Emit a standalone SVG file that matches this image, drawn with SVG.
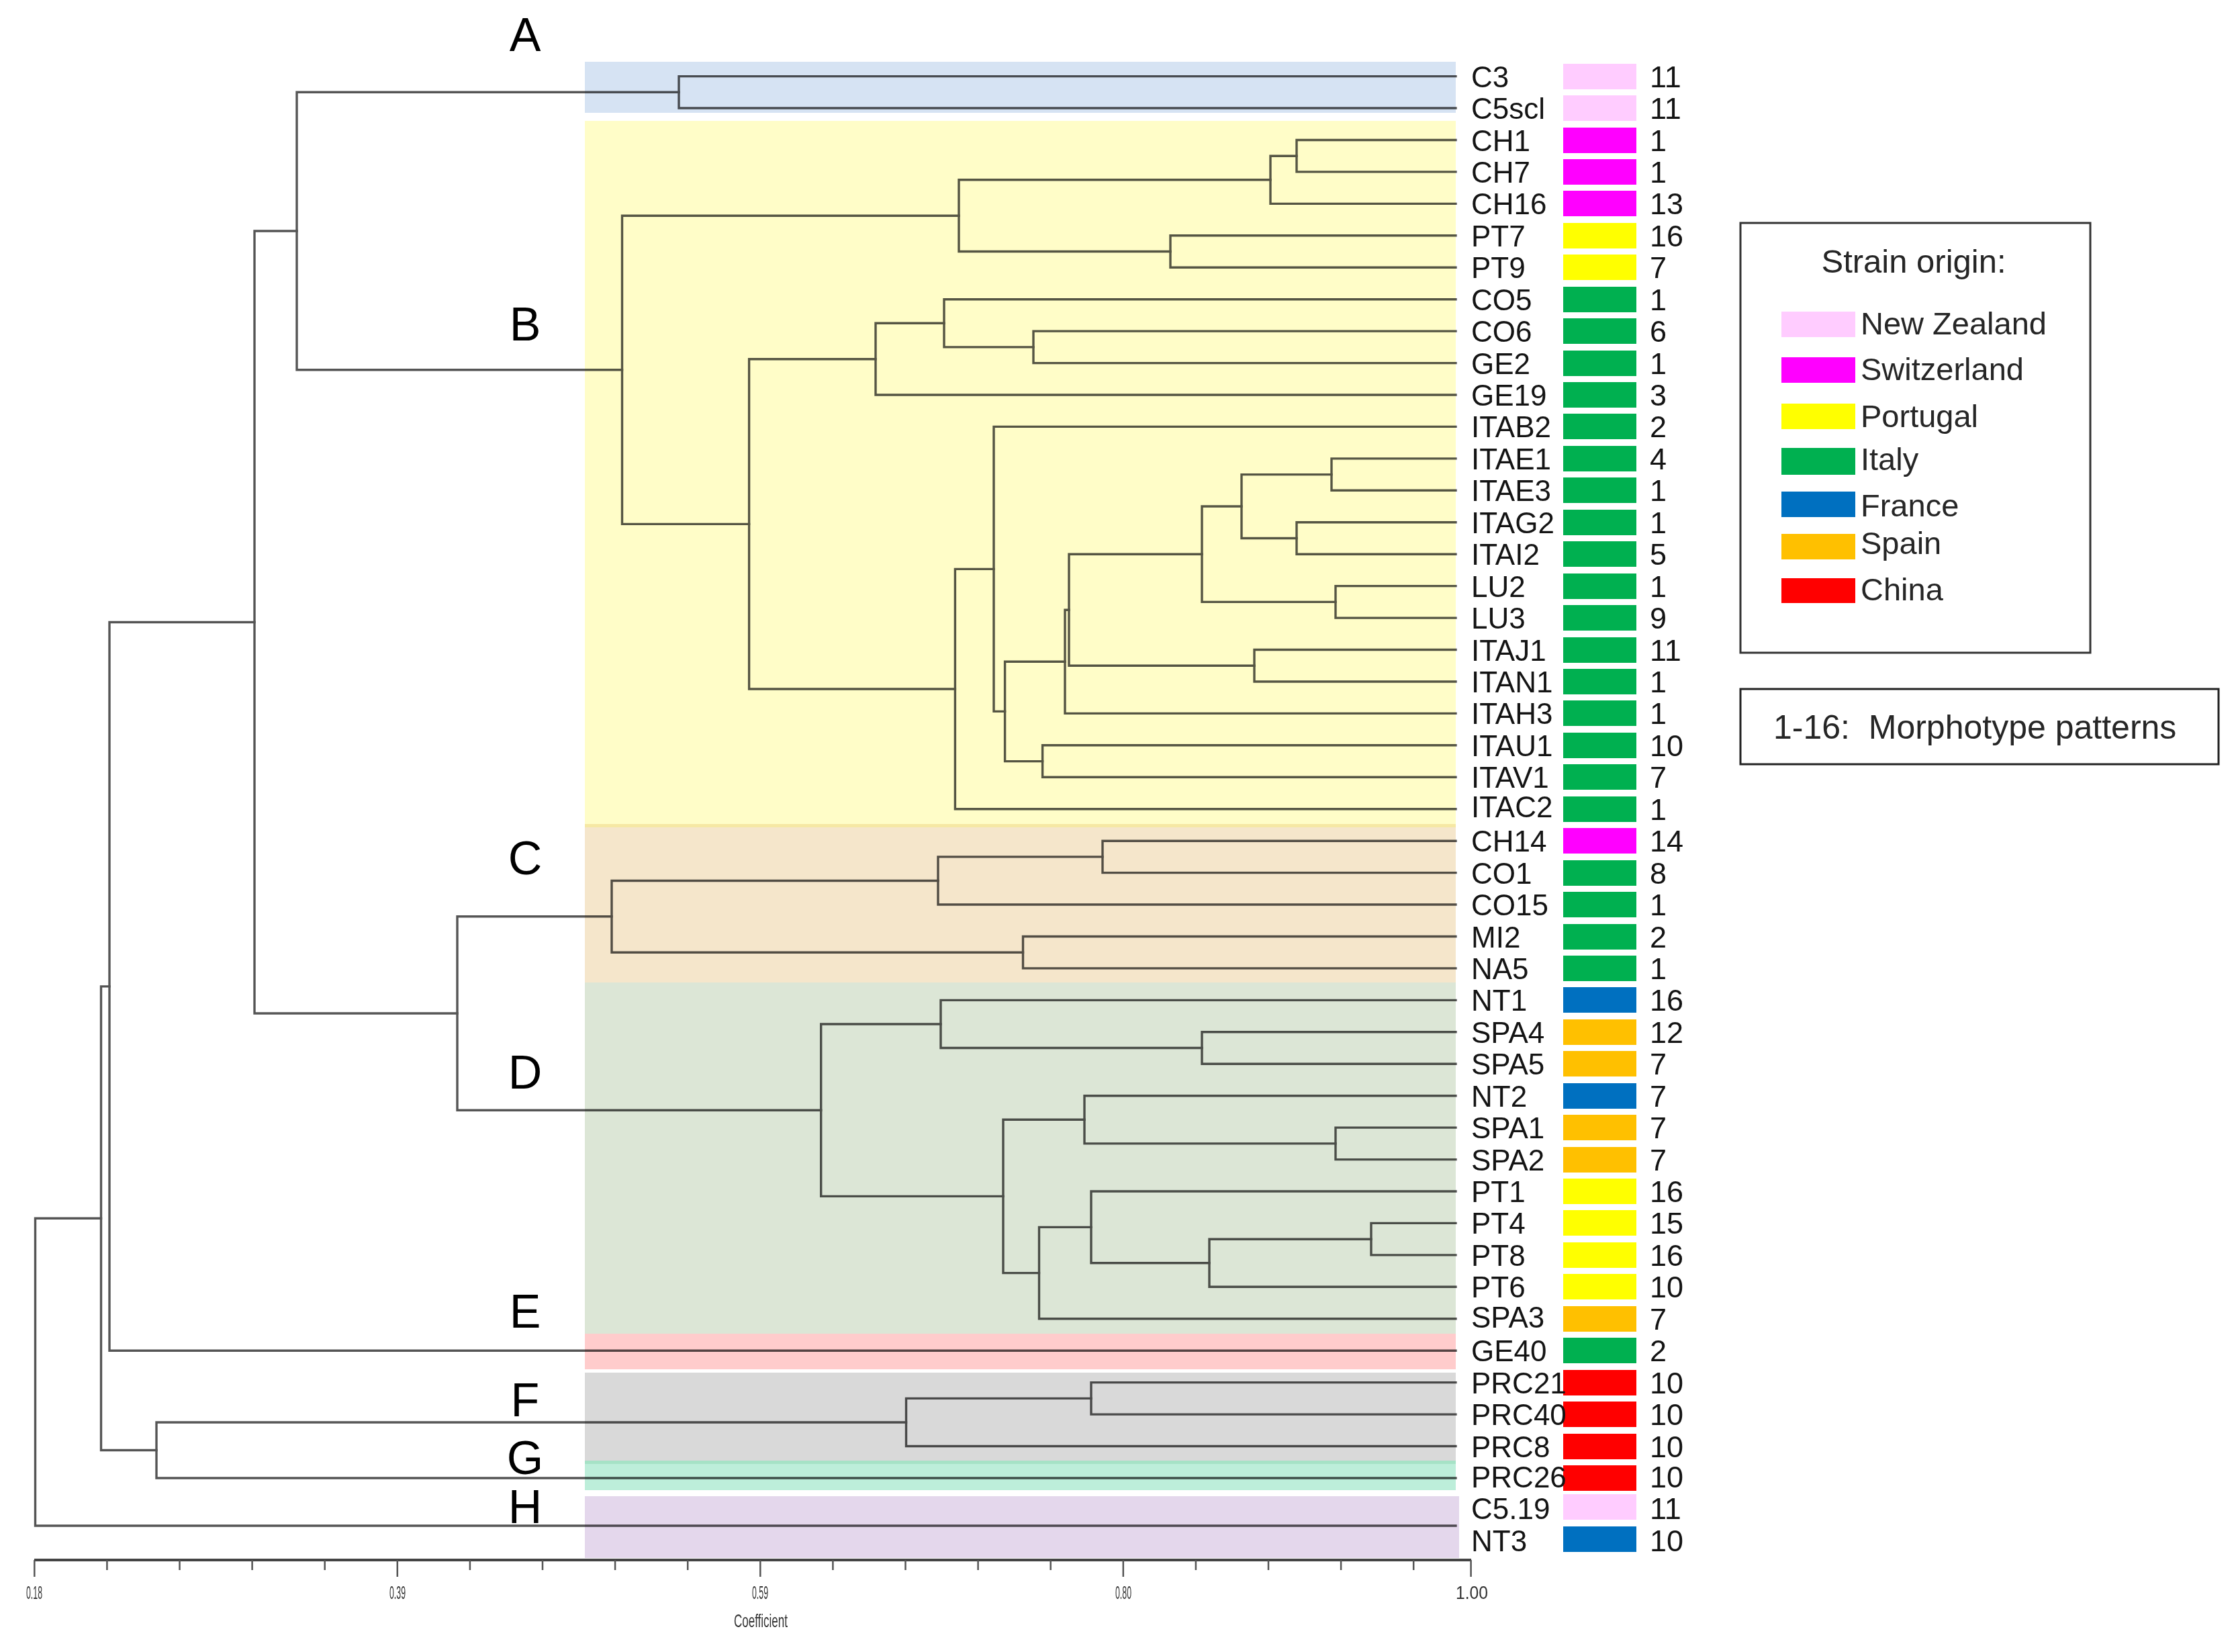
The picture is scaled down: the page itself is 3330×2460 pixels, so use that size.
<svg xmlns="http://www.w3.org/2000/svg" width="3330" height="2460" viewBox="0 0 3330 2460">
<style>
text{font-family:"Liberation Sans",Arial,sans-serif}
.lbl{font-size:44px;fill:#141414}
.num{font-size:45px;fill:#141414}
.cl{font-size:70px;fill:#000;text-anchor:middle}
.lg{font-size:47px;fill:#262626}
.ax{font-size:28px;fill:#333;text-anchor:middle}
.nz{fill:#FFCCFF}.ch{fill:#FF00FF}.pt{fill:#FFFF00}.it{fill:#00B050}.fr{fill:#0070C0}.es{fill:#FFC000}.cn{fill:#FF0000}
.tree path{fill:none;stroke:#555;stroke-width:3.4;stroke-linecap:square}
.tree{mix-blend-mode:multiply}
</style>
<rect width="3330" height="2460" fill="#fff"/>
<g id="bands">
<rect x="871" y="92" width="1297" height="76" fill="#D6E3F3"/>
<rect x="871" y="180" width="1297" height="1050" fill="#FFFDC8"/>
<rect x="871" y="1227" width="1297" height="5" fill="#F6E8A4"/>
<rect x="871" y="1232" width="1297" height="231" fill="#F5E6CB"/>
<rect x="871" y="1463" width="1297" height="523" fill="#DCE6D6"/>
<rect x="871" y="1986" width="1297" height="53" fill="#FFCCCC"/>
<rect x="871" y="2044" width="1297" height="131" fill="#D9D9D9"/>
<rect x="871" y="2175" width="1297" height="44" fill="#BDEEDA"/>
<rect x="871" y="2175" width="1297" height="5" fill="#A6E2C6"/>
<rect x="871" y="2228" width="1302" height="92" fill="#E4D7EC"/>
</g>
<g id="connectors" class="tree">
<path d="M52.5,1814.2V2272M52.5,1814.2H150.5M52.5,2272H2168"/>
<path d="M150.5,1468.9V2159.5M150.5,1468.9H163M150.5,2159.5H233"/>
<path d="M163,926.5V2011.2M163,926.5H379M163,2011.2H2168"/>
<path d="M233,2118V2201M233,2118H1349.5M233,2201H2168"/>
<path d="M1349.5,2082.4V2153.5M1349.5,2082.4H1625M1349.5,2153.5H2168"/>
<path d="M1625,2058.6V2106.1M1625,2058.6H2168M1625,2106.1H2168"/>
<path d="M379,344V1509M379,344H442M379,1509H681"/>
<path d="M442,137.3V550.8M442,137.3H1011M442,550.8H926.5"/>
<path d="M1011,113.6V161M1011,113.6H2168M1011,161H2168"/>
<path d="M926.5,321.2V780.4M926.5,321.2H1428M926.5,780.4H1115.6"/>
<path d="M1428,267.8V374.5M1428,267.8H1892M1428,374.5H1743"/>
<path d="M1892,232.2V303.4M1892,232.2H1931M1892,303.4H2168"/>
<path d="M1931,208.5V255.9M1931,208.5H2168M1931,255.9H2168"/>
<path d="M1743,350.8V398.2M1743,350.8H2168M1743,398.2H2168"/>
<path d="M1115.6,534.7V1026M1115.6,534.7H1304M1115.6,1026H1422.4"/>
<path d="M1304,481.3V588M1304,481.3H1406M1304,588H2168"/>
<path d="M1406,445.7V516.9M1406,445.7H2168M1406,516.9H1539"/>
<path d="M1539,493.1V540.6M1539,493.1H2168M1539,540.6H2168"/>
<path d="M1422.4,847.4V1204.7M1422.4,847.4H1480M1422.4,1204.7H2168"/>
<path d="M1480,635.4V1059.4M1480,635.4H2168M1480,1059.4H1496.6"/>
<path d="M1496.6,985.3V1133.6M1496.6,985.3H1586M1496.6,1133.6H1552.6"/>
<path d="M1586,908.2V1062.4M1586,908.2H1592M1586,1062.4H2168"/>
<path d="M1592,825.2V991.2M1592,825.2H1790M1592,991.2H1868"/>
<path d="M1790,754V896.4M1790,754H1849M1790,896.4H1989"/>
<path d="M1849,706.6V801.5M1849,706.6H1983M1849,801.5H1931"/>
<path d="M1983,682.9V730.3M1983,682.9H2168M1983,730.3H2168"/>
<path d="M1931,777.8V825.2M1931,777.8H2168M1931,825.2H2168"/>
<path d="M1989,872.6V920.1M1989,872.6H2168M1989,920.1H2168"/>
<path d="M1868,967.5V1015M1868,967.5H2168M1868,1015H2168"/>
<path d="M1552.6,1109.8V1157.3M1552.6,1109.8H2168M1552.6,1157.3H2168"/>
<path d="M681,1364.8V1653.2M681,1364.8H911M681,1653.2H1222.7"/>
<path d="M911,1311.5V1418.2M911,1311.5H1397M911,1418.2H1523.5"/>
<path d="M1397,1275.9V1347M1397,1275.9H1642M1397,1347H2168"/>
<path d="M1642,1252.2V1299.6M1642,1252.2H2168M1642,1299.6H2168"/>
<path d="M1523.5,1394.5V1441.9M1523.5,1394.5H2168M1523.5,1441.9H2168"/>
<path d="M1222.7,1525V1781.4M1222.7,1525H1401M1222.7,1781.4H1494"/>
<path d="M1401,1489.4V1560.5M1401,1489.4H2168M1401,1560.5H1790"/>
<path d="M1790,1536.8V1584.2M1790,1536.8H2168M1790,1584.2H2168"/>
<path d="M1494,1667.3V1895.6M1494,1667.3H1615M1494,1895.6H1547.5"/>
<path d="M1615,1631.7V1702.9M1615,1631.7H2168M1615,1702.9H1989"/>
<path d="M1989,1679.1V1726.6M1989,1679.1H2168M1989,1726.6H2168"/>
<path d="M1547.5,1827.4V1963.8M1547.5,1827.4H1625M1547.5,1963.8H2168"/>
<path d="M1625,1774V1880.7M1625,1774H2168M1625,1880.7H1801"/>
<path d="M1801,1845.2V1916.3M1801,1845.2H2042M1801,1916.3H2168"/>
<path d="M2042,1821.4V1868.9M2042,1821.4H2168M2042,1868.9H2168"/>
</g>
<g id="cluster-letters">
<text class="cl" x="782" y="76">A</text>
<text class="cl" x="782" y="507">B</text>
<text class="cl" x="782" y="1302">C</text>
<text class="cl" x="782" y="1621">D</text>
<text class="cl" x="782" y="1977">E</text>
<text class="cl" x="782" y="2109">F</text>
<text class="cl" x="782" y="2195">G</text>
<text class="cl" x="782" y="2268">H</text>
</g>
<g id="leaves">
<g id="leaf-C3" transform="translate(0,114)"><rect class="nz" x="2328" y="-19" width="109" height="38"/><text class="lbl" x="2191" y="16">C3</text><text class="num" x="2457" y="16">11</text></g>
<g id="leaf-C5scl" transform="translate(0,161)"><rect class="nz" x="2328" y="-19" width="109" height="38"/><text class="lbl" x="2191" y="16">C5scl</text><text class="num" x="2457" y="16">11</text></g>
<g id="leaf-CH1" transform="translate(0,209)"><rect class="ch" x="2328" y="-19" width="109" height="38"/><text class="lbl" x="2191" y="16">CH1</text><text class="num" x="2457" y="16">1</text></g>
<g id="leaf-CH7" transform="translate(0,256)"><rect class="ch" x="2328" y="-19" width="109" height="38"/><text class="lbl" x="2191" y="16">CH7</text><text class="num" x="2457" y="16">1</text></g>
<g id="leaf-CH16" transform="translate(0,303)"><rect class="ch" x="2328" y="-19" width="109" height="38"/><text class="lbl" x="2191" y="16">CH16</text><text class="num" x="2457" y="16">13</text></g>
<g id="leaf-PT7" transform="translate(0,351)"><rect class="pt" x="2328" y="-19" width="109" height="38"/><text class="lbl" x="2191" y="16">PT7</text><text class="num" x="2457" y="16">16</text></g>
<g id="leaf-PT9" transform="translate(0,398)"><rect class="pt" x="2328" y="-19" width="109" height="38"/><text class="lbl" x="2191" y="16">PT9</text><text class="num" x="2457" y="16">7</text></g>
<g id="leaf-CO5" transform="translate(0,446)"><rect class="it" x="2328" y="-19" width="109" height="38"/><text class="lbl" x="2191" y="16">CO5</text><text class="num" x="2457" y="16">1</text></g>
<g id="leaf-CO6" transform="translate(0,493)"><rect class="it" x="2328" y="-19" width="109" height="38"/><text class="lbl" x="2191" y="16">CO6</text><text class="num" x="2457" y="16">6</text></g>
<g id="leaf-GE2" transform="translate(0,541)"><rect class="it" x="2328" y="-19" width="109" height="38"/><text class="lbl" x="2191" y="16">GE2</text><text class="num" x="2457" y="16">1</text></g>
<g id="leaf-GE19" transform="translate(0,588)"><rect class="it" x="2328" y="-19" width="109" height="38"/><text class="lbl" x="2191" y="16">GE19</text><text class="num" x="2457" y="16">3</text></g>
<g id="leaf-ITAB2" transform="translate(0,635)"><rect class="it" x="2328" y="-19" width="109" height="38"/><text class="lbl" x="2191" y="16">ITAB2</text><text class="num" x="2457" y="16">2</text></g>
<g id="leaf-ITAE1" transform="translate(0,683)"><rect class="it" x="2328" y="-19" width="109" height="38"/><text class="lbl" x="2191" y="16">ITAE1</text><text class="num" x="2457" y="16">4</text></g>
<g id="leaf-ITAE3" transform="translate(0,730)"><rect class="it" x="2328" y="-19" width="109" height="38"/><text class="lbl" x="2191" y="16">ITAE3</text><text class="num" x="2457" y="16">1</text></g>
<g id="leaf-ITAG2" transform="translate(0,778)"><rect class="it" x="2328" y="-19" width="109" height="38"/><text class="lbl" x="2191" y="16">ITAG2</text><text class="num" x="2457" y="16">1</text></g>
<g id="leaf-ITAI2" transform="translate(0,825)"><rect class="it" x="2328" y="-19" width="109" height="38"/><text class="lbl" x="2191" y="16">ITAI2</text><text class="num" x="2457" y="16">5</text></g>
<g id="leaf-LU2" transform="translate(0,873)"><rect class="it" x="2328" y="-19" width="109" height="38"/><text class="lbl" x="2191" y="16">LU2</text><text class="num" x="2457" y="16">1</text></g>
<g id="leaf-LU3" transform="translate(0,920)"><rect class="it" x="2328" y="-19" width="109" height="38"/><text class="lbl" x="2191" y="16">LU3</text><text class="num" x="2457" y="16">9</text></g>
<g id="leaf-ITAJ1" transform="translate(0,968)"><rect class="it" x="2328" y="-19" width="109" height="38"/><text class="lbl" x="2191" y="16">ITAJ1</text><text class="num" x="2457" y="16">11</text></g>
<g id="leaf-ITAN1" transform="translate(0,1015)"><rect class="it" x="2328" y="-19" width="109" height="38"/><text class="lbl" x="2191" y="16">ITAN1</text><text class="num" x="2457" y="16">1</text></g>
<g id="leaf-ITAH3" transform="translate(0,1062)"><rect class="it" x="2328" y="-19" width="109" height="38"/><text class="lbl" x="2191" y="16">ITAH3</text><text class="num" x="2457" y="16">1</text></g>
<g id="leaf-ITAU1" transform="translate(0,1110)"><rect class="it" x="2328" y="-19" width="109" height="38"/><text class="lbl" x="2191" y="16">ITAU1</text><text class="num" x="2457" y="16">10</text></g>
<g id="leaf-ITAV1" transform="translate(0,1157)"><rect class="it" x="2328" y="-19" width="109" height="38"/><text class="lbl" x="2191" y="16">ITAV1</text><text class="num" x="2457" y="16">7</text></g>
<g id="leaf-ITAC2" transform="translate(0,1205)"><rect class="it" x="2328" y="-19" width="109" height="38"/><text class="lbl" x="2191" y="12">ITAC2</text><text class="num" x="2457" y="16">1</text></g>
<g id="leaf-CH14" transform="translate(0,1252)"><rect class="ch" x="2328" y="-19" width="109" height="38"/><text class="lbl" x="2191" y="16">CH14</text><text class="num" x="2457" y="16">14</text></g>
<g id="leaf-CO1" transform="translate(0,1300)"><rect class="it" x="2328" y="-19" width="109" height="38"/><text class="lbl" x="2191" y="16">CO1</text><text class="num" x="2457" y="16">8</text></g>
<g id="leaf-CO15" transform="translate(0,1347)"><rect class="it" x="2328" y="-19" width="109" height="38"/><text class="lbl" x="2191" y="16">CO15</text><text class="num" x="2457" y="16">1</text></g>
<g id="leaf-MI2" transform="translate(0,1395)"><rect class="it" x="2328" y="-19" width="109" height="38"/><text class="lbl" x="2191" y="16">MI2</text><text class="num" x="2457" y="16">2</text></g>
<g id="leaf-NA5" transform="translate(0,1442)"><rect class="it" x="2328" y="-19" width="109" height="38"/><text class="lbl" x="2191" y="16">NA5</text><text class="num" x="2457" y="16">1</text></g>
<g id="leaf-NT1" transform="translate(0,1489)"><rect class="fr" x="2328" y="-19" width="109" height="38"/><text class="lbl" x="2191" y="16">NT1</text><text class="num" x="2457" y="16">16</text></g>
<g id="leaf-SPA4" transform="translate(0,1537)"><rect class="es" x="2328" y="-19" width="109" height="38"/><text class="lbl" x="2191" y="16">SPA4</text><text class="num" x="2457" y="16">12</text></g>
<g id="leaf-SPA5" transform="translate(0,1584)"><rect class="es" x="2328" y="-19" width="109" height="38"/><text class="lbl" x="2191" y="16">SPA5</text><text class="num" x="2457" y="16">7</text></g>
<g id="leaf-NT2" transform="translate(0,1632)"><rect class="fr" x="2328" y="-19" width="109" height="38"/><text class="lbl" x="2191" y="16">NT2</text><text class="num" x="2457" y="16">7</text></g>
<g id="leaf-SPA1" transform="translate(0,1679)"><rect class="es" x="2328" y="-19" width="109" height="38"/><text class="lbl" x="2191" y="16">SPA1</text><text class="num" x="2457" y="16">7</text></g>
<g id="leaf-SPA2" transform="translate(0,1727)"><rect class="es" x="2328" y="-19" width="109" height="38"/><text class="lbl" x="2191" y="16">SPA2</text><text class="num" x="2457" y="16">7</text></g>
<g id="leaf-PT1" transform="translate(0,1774)"><rect class="pt" x="2328" y="-19" width="109" height="38"/><text class="lbl" x="2191" y="16">PT1</text><text class="num" x="2457" y="16">16</text></g>
<g id="leaf-PT4" transform="translate(0,1821)"><rect class="pt" x="2328" y="-19" width="109" height="38"/><text class="lbl" x="2191" y="16">PT4</text><text class="num" x="2457" y="16">15</text></g>
<g id="leaf-PT8" transform="translate(0,1869)"><rect class="pt" x="2328" y="-19" width="109" height="38"/><text class="lbl" x="2191" y="16">PT8</text><text class="num" x="2457" y="16">16</text></g>
<g id="leaf-PT6" transform="translate(0,1916)"><rect class="pt" x="2328" y="-19" width="109" height="38"/><text class="lbl" x="2191" y="16">PT6</text><text class="num" x="2457" y="16">10</text></g>
<g id="leaf-SPA3" transform="translate(0,1964)"><rect class="es" x="2328" y="-19" width="109" height="38"/><text class="lbl" x="2191" y="13">SPA3</text><text class="num" x="2457" y="16">7</text></g>
<g id="leaf-GE40" transform="translate(0,2011)"><rect class="it" x="2328" y="-19" width="109" height="38"/><text class="lbl" x="2191" y="16">GE40</text><text class="num" x="2457" y="16">2</text></g>
<g id="leaf-PRC21" transform="translate(0,2059)"><rect class="cn" x="2328" y="-19" width="109" height="38"/><text class="lbl" x="2191" y="16">PRC21</text><text class="num" x="2457" y="16">10</text></g>
<g id="leaf-PRC40" transform="translate(0,2106)"><rect class="cn" x="2328" y="-19" width="109" height="38"/><text class="lbl" x="2191" y="16">PRC40</text><text class="num" x="2457" y="16">10</text></g>
<g id="leaf-PRC8" transform="translate(0,2154)"><rect class="cn" x="2328" y="-19" width="109" height="38"/><text class="lbl" x="2191" y="16">PRC8</text><text class="num" x="2457" y="16">10</text></g>
<g id="leaf-PRC26" transform="translate(0,2201)"><rect class="cn" x="2328" y="-19" width="109" height="38"/><text class="lbl" x="2191" y="14">PRC26</text><text class="num" x="2457" y="14">10</text></g>
<g id="leaf-C5.19" transform="translate(0,2244)"><rect class="nz" x="2328" y="-19" width="109" height="38"/><text class="lbl" x="2191" y="18">C5.19</text><text class="num" x="2457" y="18">11</text></g>
<g id="leaf-NT3" transform="translate(0,2292)"><rect class="fr" x="2328" y="-19" width="109" height="38"/><text class="lbl" x="2191" y="18">NT3</text><text class="num" x="2457" y="18">10</text></g>
</g>
<g id="legend">
<rect x="2592" y="332" width="521" height="640" fill="none" stroke="#333" stroke-width="3"/>
<text x="2850" y="406" font-size="49" fill="#262626" text-anchor="middle">Strain origin:</text>
<rect class="nz" x="2653" y="464" width="110" height="38"/><text class="lg" x="2771" y="498">New Zealand</text>
<rect class="ch" x="2653" y="532" width="110" height="38"/><text class="lg" x="2771" y="566">Switzerland</text>
<rect class="pt" x="2653" y="601" width="110" height="38"/><text class="lg" x="2771" y="636">Portugal</text>
<rect class="it" x="2653" y="667" width="110" height="40"/><text class="lg" x="2771" y="700">Italy</text>
<rect class="fr" x="2653" y="732" width="110" height="38"/><text class="lg" x="2771" y="769">France</text>
<rect class="es" x="2653" y="795" width="110" height="38"/><text class="lg" x="2771" y="825">Spain</text>
<rect class="cn" x="2653" y="861" width="110" height="37"/><text class="lg" x="2771" y="894">China</text>
</g>
<g id="morphotype-note">
<rect x="2592" y="1026" width="712" height="112" fill="none" stroke="#222" stroke-width="3"/>
<text x="2641" y="1100" font-size="50" fill="#262626" style="white-space:pre">1-16:  Morphotype patterns</text>
</g>
<g id="axis">
<path d="M51,2323H2191" stroke="#444" stroke-width="4" fill="none"/>
<path d="M51.3,2323v25M159.4,2323v15M267.5,2323v15M375.6,2323v15M483.7,2323v15M591.8,2323v25M699.9,2323v15M808,2323v15M916.1,2323v15M1024.2,2323v15M1132.3,2323v25M1240.4,2323v15M1348.5,2323v15M1456.6,2323v15M1564.7,2323v15M1672.8,2323v25M1780.9,2323v15M1889,2323v15M1997.1,2323v15M2105.2,2323v15M2190.6,2323v25" stroke="#555" stroke-width="2.5" fill="none"/>
<text class="ax" x="51" y="2381" textLength="24" lengthAdjust="spacingAndGlyphs">0.18</text>
<text class="ax" x="592" y="2381" textLength="24" lengthAdjust="spacingAndGlyphs">0.39</text>
<text class="ax" x="1132" y="2381" textLength="24" lengthAdjust="spacingAndGlyphs">0.59</text>
<text class="ax" x="1673" y="2381" textLength="24" lengthAdjust="spacingAndGlyphs">0.80</text>
<text class="ax" x="2192" y="2381" textLength="48" lengthAdjust="spacingAndGlyphs">1.00</text>
<text class="ax" x="1133" y="2423" textLength="80" lengthAdjust="spacingAndGlyphs">Coefficient</text>
</g>
</svg>
